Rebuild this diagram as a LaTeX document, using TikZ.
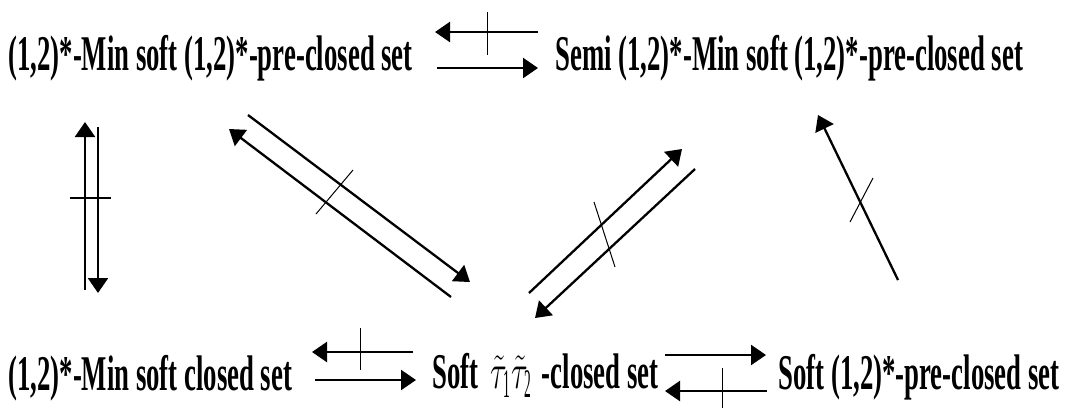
\documentclass[tikz,border=0pt]{standalone}
\usepackage{fontspec}
\setmainfont[FakeStretch=0.535]{Liberation Serif}
\usetikzlibrary{arrows.meta}
\newcommand{\tautau}{\scalebox{0.62}[1]{\fontsize{29}{29}\selectfont$\tilde{\tau}_{\mathrm{1}}\!\tilde{\tau}_{\mathrm{2}}$}}
\begin{document}
\begin{tikzpicture}[x=0.5pt,y=-0.5pt,
  lbl/.style={anchor=base west,inner sep=0pt,font=\fontsize{25}{25}\selectfont\bfseries},
  arr/.style={line width=1.15pt,-{Triangle[length=7.5pt,width=10pt]}},
  tick/.style={line width=0.5pt}]
\useasboundingbox (0,0) rectangle (1074,408);
% texts
\node[lbl] (a) at (8,70) {(1,2)*-Min soft (1,2)*-pre-closed set};
\node[lbl] (b) at (555,70) {Semi (1,2)*-Min soft (1,2)*-pre-closed set};
\node[lbl] (c) at (8,390) {(1,2)*-Min soft closed set};
\node[lbl] (d) at (432,388) {Soft\hspace{6pt}\tautau\hspace{2pt}-closed set};
\node[lbl] (e) at (778,389) {Soft (1,2)*-pre-closed set};
% top pair
\coordinate (t1s) at (538,32); \coordinate (t1e) at (435,32);
\coordinate (t2s) at (437,68); \coordinate (t2e) at (538,68);
\draw[arr] (t1s) -- (t1e);
\draw[arr] (t2s) -- (t2e);
\coordinate (tk1a) at (487,12); \coordinate (tk1b) at (487,55);
\draw[tick] (tk1a) -- (tk1b);
% bottom left pair
\coordinate (b1s) at (413,352); \coordinate (b1e) at (312,352);
\coordinate (b2s) at (315,380); \coordinate (b2e) at (416,380);
\draw[arr] (b1s) -- (b1e);
\draw[arr] (b2s) -- (b2e);
\coordinate (tk2a) at (360,328); \coordinate (tk2b) at (360,370);
\draw[tick] (tk2a) -- (tk2b);
% bottom right pair
\coordinate (r1s) at (665,355); \coordinate (r1e) at (766,355);
\coordinate (r2s) at (767,391); \coordinate (r2e) at (665,391);
\draw[arr] (r1s) -- (r1e);
\draw[arr] (r2s) -- (r2e);
\coordinate (tk3a) at (722,368); \coordinate (tk3b) at (722,408);
\draw[tick] (tk3a) -- (tk3b);
% vertical pair
\coordinate (v1s) at (85,290); \coordinate (v1e) at (85,122);
\coordinate (v2s) at (98,127); \coordinate (v2e) at (98,293);
\draw[arr] (v1s) -- (v1e);
\draw[arr] (v2s) -- (v2e);
\coordinate (tk4a) at (70,198); \coordinate (tk4b) at (111,198);
\draw[tick,line width=0.9pt] (tk4a) -- (tk4b);
% diagonal pair 1
\coordinate (d1s) at (248,115); \coordinate (d1e) at (470,282);
\coordinate (d2s) at (451,297); \coordinate (d2e) at (229,129);
\draw[arr] (d1s) -- (d1e);
\draw[arr] (d2s) -- (d2e);
\coordinate (tk5a) at (316,214); \coordinate (tk5b) at (353,170);
\draw[tick] (tk5a) -- (tk5b);
% diagonal pair 2
\coordinate (e1s) at (529,293); \coordinate (e1e) at (682,149);
\coordinate (e2s) at (695,169); \coordinate (e2e) at (535,318);
\draw[arr] (e1s) -- (e1e);
\draw[arr] (e2s) -- (e2e);
\coordinate (tk6a) at (594,202); \coordinate (tk6b) at (615,267);
\draw[tick] (tk6a) -- (tk6b);
% single arrow
\coordinate (f1s) at (898,280); \coordinate (f1e) at (818,115);
\draw[arr] (f1s) -- (f1e);
\coordinate (tk7a) at (850,222); \coordinate (tk7b) at (873,178);
\draw[tick] (tk7a) -- (tk7b);
\end{tikzpicture}
\end{document}
